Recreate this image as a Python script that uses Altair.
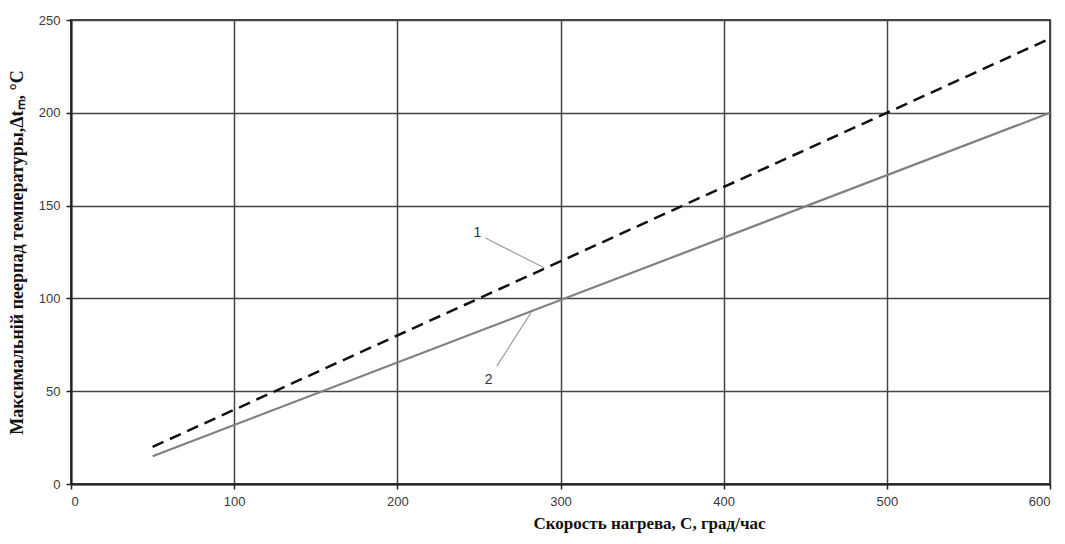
import altair as alt
import pandas as pd

# Data
x1 = [50, 600]
y1 = [20, 240]
x2 = [50, 600]
y2 = [15, 200]
label_text = ["1", "2"]
label_x = [249, 256]
label_y = [135, 56]
leader_x = [254, 290, 261, 282]
leader_y = [132.5, 116.5, 63.5, 92.5]
leader_id = ["1", "1", "2", "2"]

d1 = pd.DataFrame({"x": x1, "y": y1})
d2 = pd.DataFrame({"x": x2, "y": y2})
dl = pd.DataFrame({"x": label_x, "y": label_y, "t": label_text})
dlead = pd.DataFrame({"x": leader_x, "y": leader_y, "g": leader_id})

xs = alt.Scale(domain=[0, 600], nice=False)
ys = alt.Scale(domain=[0, 250], nice=False)

xax = alt.Axis(values=[0, 100, 200, 300, 400, 500, 600], title="Скорость нагрева, С, град/час",
               grid=True, gridColor="#444444", gridWidth=1.5, gridOpacity=1,
               domain=True, domainColor="#222222", domainWidth=2,
               tickColor="#222222", tickSize=5, tickWidth=1.5,
               labelFont="Liberation Sans", labelFontSize=13, labelColor="#3a3a3a", labelPadding=6,
               titleFont="Liberation Serif", titleFontSize=17, titleFontWeight="bold",
               titleColor="#111111", titlePadding=7, titleX=578, titleAlign="center")
yax = alt.Axis(values=[0, 50, 100, 150, 200, 250], title="Максимальній пеерпад температуры,Δtₘ, °С",
               grid=True, gridColor="#444444", gridWidth=1.5, gridOpacity=1,
               domain=True, domainColor="#222222", domainWidth=2,
               tickColor="#222222", tickSize=5, tickWidth=1.5,
               labelFont="Liberation Sans", labelFontSize=13, labelColor="#3a3a3a", labelPadding=6,
               titleFont="Liberation Serif", titleFontSize=18, titleFontWeight="bold",
               titleColor="#111111", titlePadding=12)

line1 = alt.Chart(d1).mark_line(color="#111111", strokeWidth=2.5, strokeDash=[12, 7]).encode(
    x=alt.X("x:Q", scale=xs, axis=xax), y=alt.Y("y:Q", scale=ys, axis=yax))
line2 = alt.Chart(d2).mark_line(color="#808080", strokeWidth=2.2).encode(
    x=alt.X("x:Q", scale=xs), y=alt.Y("y:Q", scale=ys))
leaders = alt.Chart(dlead).mark_line(color="#a0a0a0", strokeWidth=1.2).encode(
    x=alt.X("x:Q", scale=xs), y=alt.Y("y:Q", scale=ys), detail="g:N")
labels = alt.Chart(dl).mark_text(font="Liberation Sans", fontSize=14, color="#333333").encode(
    x=alt.X("x:Q", scale=xs), y=alt.Y("y:Q", scale=ys), text="t:N")

chart = alt.layer(line2, line1, leaders, labels).properties(
    width=979, height=464,
    autosize=alt.AutoSizeParams(type="none"),
    padding={"left": 63, "top": 12, "right": 5, "bottom": 51},
).configure_view(stroke="#444444", strokeWidth=2)

chart.save("out.html", embed_options={"renderer": "svg", "actions": False})
